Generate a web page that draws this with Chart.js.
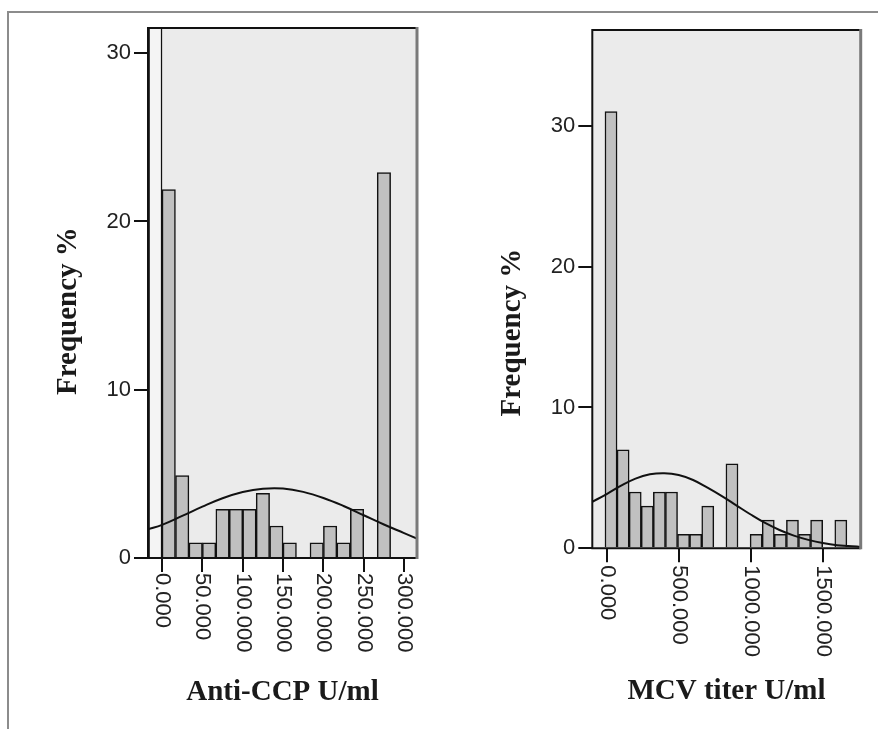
<!DOCTYPE html>
<html>
<head>
<meta charset="utf-8">
<script src="https://cdn.jsdelivr.net/npm/chart.js@4.4.0/dist/chart.umd.min.js"></script>
<style>
html, body { margin: 0; padding: 0; background: #fff; overflow: hidden; }
#frame { position: absolute; left: 7px; top: 11px; width: 900px; height: 800px; border-top: 2px solid #8c8c8c; border-left: 2px solid #8c8c8c; }
#c1 { position: absolute; left: 0; top: 0; }
#c2 { position: absolute; left: 440px; top: 0; }
</style>
</head>
<body>
<div id="frame"></div>
<canvas id="c1" width="440" height="729"></canvas>
<canvas id="c2" width="438" height="729"></canvas>
<script>
// Anti-CCP U/ml (bin centres, % frequency), first bin is cut off at the top
const ccpBins = [-8.3, 8.3, 25, 41.7, 58.3, 75, 91.7, 108.3, 125, 141.7, 158.3, 175, 191.7, 208.3, 225, 241.7, 258.3, 275];
const ccpFreq = [40, 21.9, 4.9, 0.9, 0.9, 2.9, 2.9, 2.9, 3.85, 1.9, 0.9, 0, 0.9, 1.9, 0.9, 2.9, 0, 22.9];
const ccpCurveX = [-17.4, 0, 25, 50, 75, 100, 125, 150, 175, 200, 225, 250, 275, 300, 316];
const ccpCurveY = [1.7, 1.97, 2.5, 3.05, 3.55, 3.92, 4.12, 4.13, 3.93, 3.57, 3.09, 2.54, 1.99, 1.48, 1.15];
const ccpTicks = [0, 50, 100, 150, 200, 250, 300];
const ccpTickLabels = ['0.000', '50.000', '100.000', '150.000', '200.000', '250.000', '300.000'];

// MCV titer U/ml
const mcvBins = [30, 114, 198, 282, 366, 450, 534, 618, 702, 786, 870, 954, 1038, 1122, 1206, 1290, 1374, 1458, 1542, 1626];
const mcvFreq = [31, 7, 4, 3, 4, 4, 1, 1, 3, 0, 6, 0, 1, 2, 1, 2, 1, 2, 0, 2];
const mcvCurveX = [-100, 0, 100, 200, 300, 400, 500, 600, 700, 800, 900, 1000, 1100, 1200, 1300, 1400, 1500, 1600, 1764];
const mcvCurveY = [3.3, 3.85, 4.45, 4.95, 5.25, 5.33, 5.2, 4.85, 4.3, 3.7, 3.05, 2.4, 1.8, 1.3, 0.9, 0.6, 0.37, 0.22, 0.1];
const mcvTicks = [0, 500, 1000, 1500];
const mcvTickLabels = ['0.000', '500.000', '1000.000', '1500.000'];

const freqTicks = [0, 10, 20, 30];
const freqTickLabels = ['0', '10', '20', '30'];

Chart.defaults.font.family = "'Liberation Sans', Arial, sans-serif";

// grey plot background, frame and the downward x labels
const plotBox = {
    id: 'plotBox',
    beforeDraw(chart) {
        const a = chart.chartArea, ctx = chart.ctx;
        ctx.save();
        ctx.fillStyle = '#ebebeb';
        ctx.fillRect(a.left, a.top, a.right - a.left, a.bottom - a.top);
        ctx.restore();
    },
    afterDatasetsDraw(chart) {
        const a = chart.chartArea, ctx = chart.ctx;
        ctx.save();
        ctx.lineWidth = 2;
        ctx.strokeStyle = '#111';
        ctx.beginPath();
        ctx.moveTo(a.left, a.bottom);
        ctx.lineTo(a.left, a.top);
        ctx.lineTo(a.right, a.top);
        ctx.moveTo(a.left - 1, a.bottom);
        ctx.lineTo(a.right, a.bottom);
        ctx.stroke();
        ctx.lineWidth = 3;
        ctx.strokeStyle = '#7a7a7a';
        ctx.beginPath();
        ctx.moveTo(a.right, a.top - 1);
        ctx.lineTo(a.right, a.bottom + 1);
        ctx.stroke();

        const xs = chart.scales.x;
        const gap = chart.options.plugins.plotBox.labelGap;
        ctx.fillStyle = '#222';
        ctx.font = "22px 'Liberation Sans', Arial, sans-serif";
        ctx.textAlign = 'left';
        ctx.textBaseline = 'middle';
        xs.ticks.forEach(t => {
            ctx.save();
            ctx.translate(xs.getPixelForValue(t.value), a.bottom + gap);
            ctx.rotate(Math.PI / 2);
            ctx.fillText(t.label, 0, 0);
            ctx.restore();
        });
        ctx.restore();
    }
};

function makeHist(id, cfg) {
    return new Chart(document.getElementById(id).getContext('2d'), {
        type: 'bar',
        data: {
            datasets: [{
                type: 'line',
                data: cfg.curveX.map((x, i) => ({x: x, y: cfg.curveY[i]})),
                borderColor: '#111',
                borderWidth: 2,
                pointRadius: 0,
                tension: 0.4,
                fill: false
            }, {
                type: 'bar',
                data: cfg.bins.map((x, i) => ({x: x, y: cfg.freq[i]})),
                backgroundColor: cfg.bins.map((x, i) => (cfg.lightFirst && i === 0) ? '#f4f4f4' : '#c0c0c0'),
                borderColor: '#111',
                borderWidth: 1.5,
                barPercentage: 1,
                categoryPercentage: 1
            }]
        },
        options: {
            responsive: false,
            animation: false,
            layout: {padding: cfg.padding},
            plugins: {
                legend: {display: false},
                tooltip: {enabled: false},
                plotBox: {labelGap: cfg.labelGap}
            },
            scales: {
                x: {
                    type: 'linear',
                    offset: false,
                    min: cfg.xMin,
                    max: cfg.xMax,
                    afterBuildTicks: s => { s.ticks = cfg.xTicks.map(v => ({value: v})); },
                    afterFit: s => { s.height = cfg.xHeight; },
                    grid: {offset: false, drawOnChartArea: false, drawTicks: true, tickLength: 14, color: '#111', lineWidth: 2},
                    border: {display: false},
                    ticks: {
                        display: false,
                        callback: v => cfg.xTickLabels[cfg.xTicks.indexOf(v)]
                    },
                    title: {
                        display: true,
                        text: cfg.xTitle,
                        color: '#1a1a1a',
                        font: {family: "'Liberation Serif', 'Times New Roman', serif", size: 29, weight: 'bold'},
                        padding: {bottom: cfg.xTitlePad}
                    }
                },
                y: {
                    min: 0,
                    max: cfg.yMax,
                    afterBuildTicks: s => { s.ticks = freqTicks.map(v => ({value: v})); },
                    afterFit: s => { s.width = cfg.yWidth; },
                    grid: {drawOnChartArea: false, drawTicks: true, tickLength: 14, color: '#111', lineWidth: 2},
                    border: {display: false},
                    ticks: {
                        color: '#222',
                        padding: 3,
                        font: {size: 22},
                        callback: v => freqTickLabels[freqTicks.indexOf(v)]
                    },
                    title: {
                        display: true,
                        text: cfg.yTitle,
                        color: '#1a1a1a',
                        font: {family: "'Liberation Serif', 'Times New Roman', serif", size: 29, weight: 'bold'},
                        padding: {top: cfg.yTitlePad}
                    }
                }
            }
        },
        plugins: [plotBox]
    });
}

var chart_ccp = makeHist('c1', {
    bins: ccpBins, freq: ccpFreq, curveX: ccpCurveX, curveY: ccpCurveY,
    xTicks: ccpTicks, xTickLabels: ccpTickLabels,
    xMin: -17.4, xMax: 316, yMax: 31.5,
    lightFirst: true,
    padding: {top: 28, right: 23, left: 0, bottom: 0},
    yWidth: 148, xHeight: 171,
    labelGap: 15,
    xTitle: 'Anti-CCP U/ml', xTitlePad: 19,
    yTitle: 'Frequency %     ', yTitlePad: 51
});

var chart_mcv = makeHist('c2', {
    bins: mcvBins, freq: mcvFreq, curveX: mcvCurveX, curveY: mcvCurveY,
    xTicks: mcvTicks, xTickLabels: mcvTickLabels,
    xMin: -100, xMax: 1764, yMax: 36.8,
    lightFirst: false,
    padding: {top: 30, right: 17.3, left: 0, bottom: 0},
    yWidth: 152.3, xHeight: 180.7,
    labelGap: 17,
    xTitle: 'MCV titer U/ml', xTitlePad: 20,
    yTitle: 'Frequency %            ', yTitlePad: 55
});
</script>
</body>
</html>
